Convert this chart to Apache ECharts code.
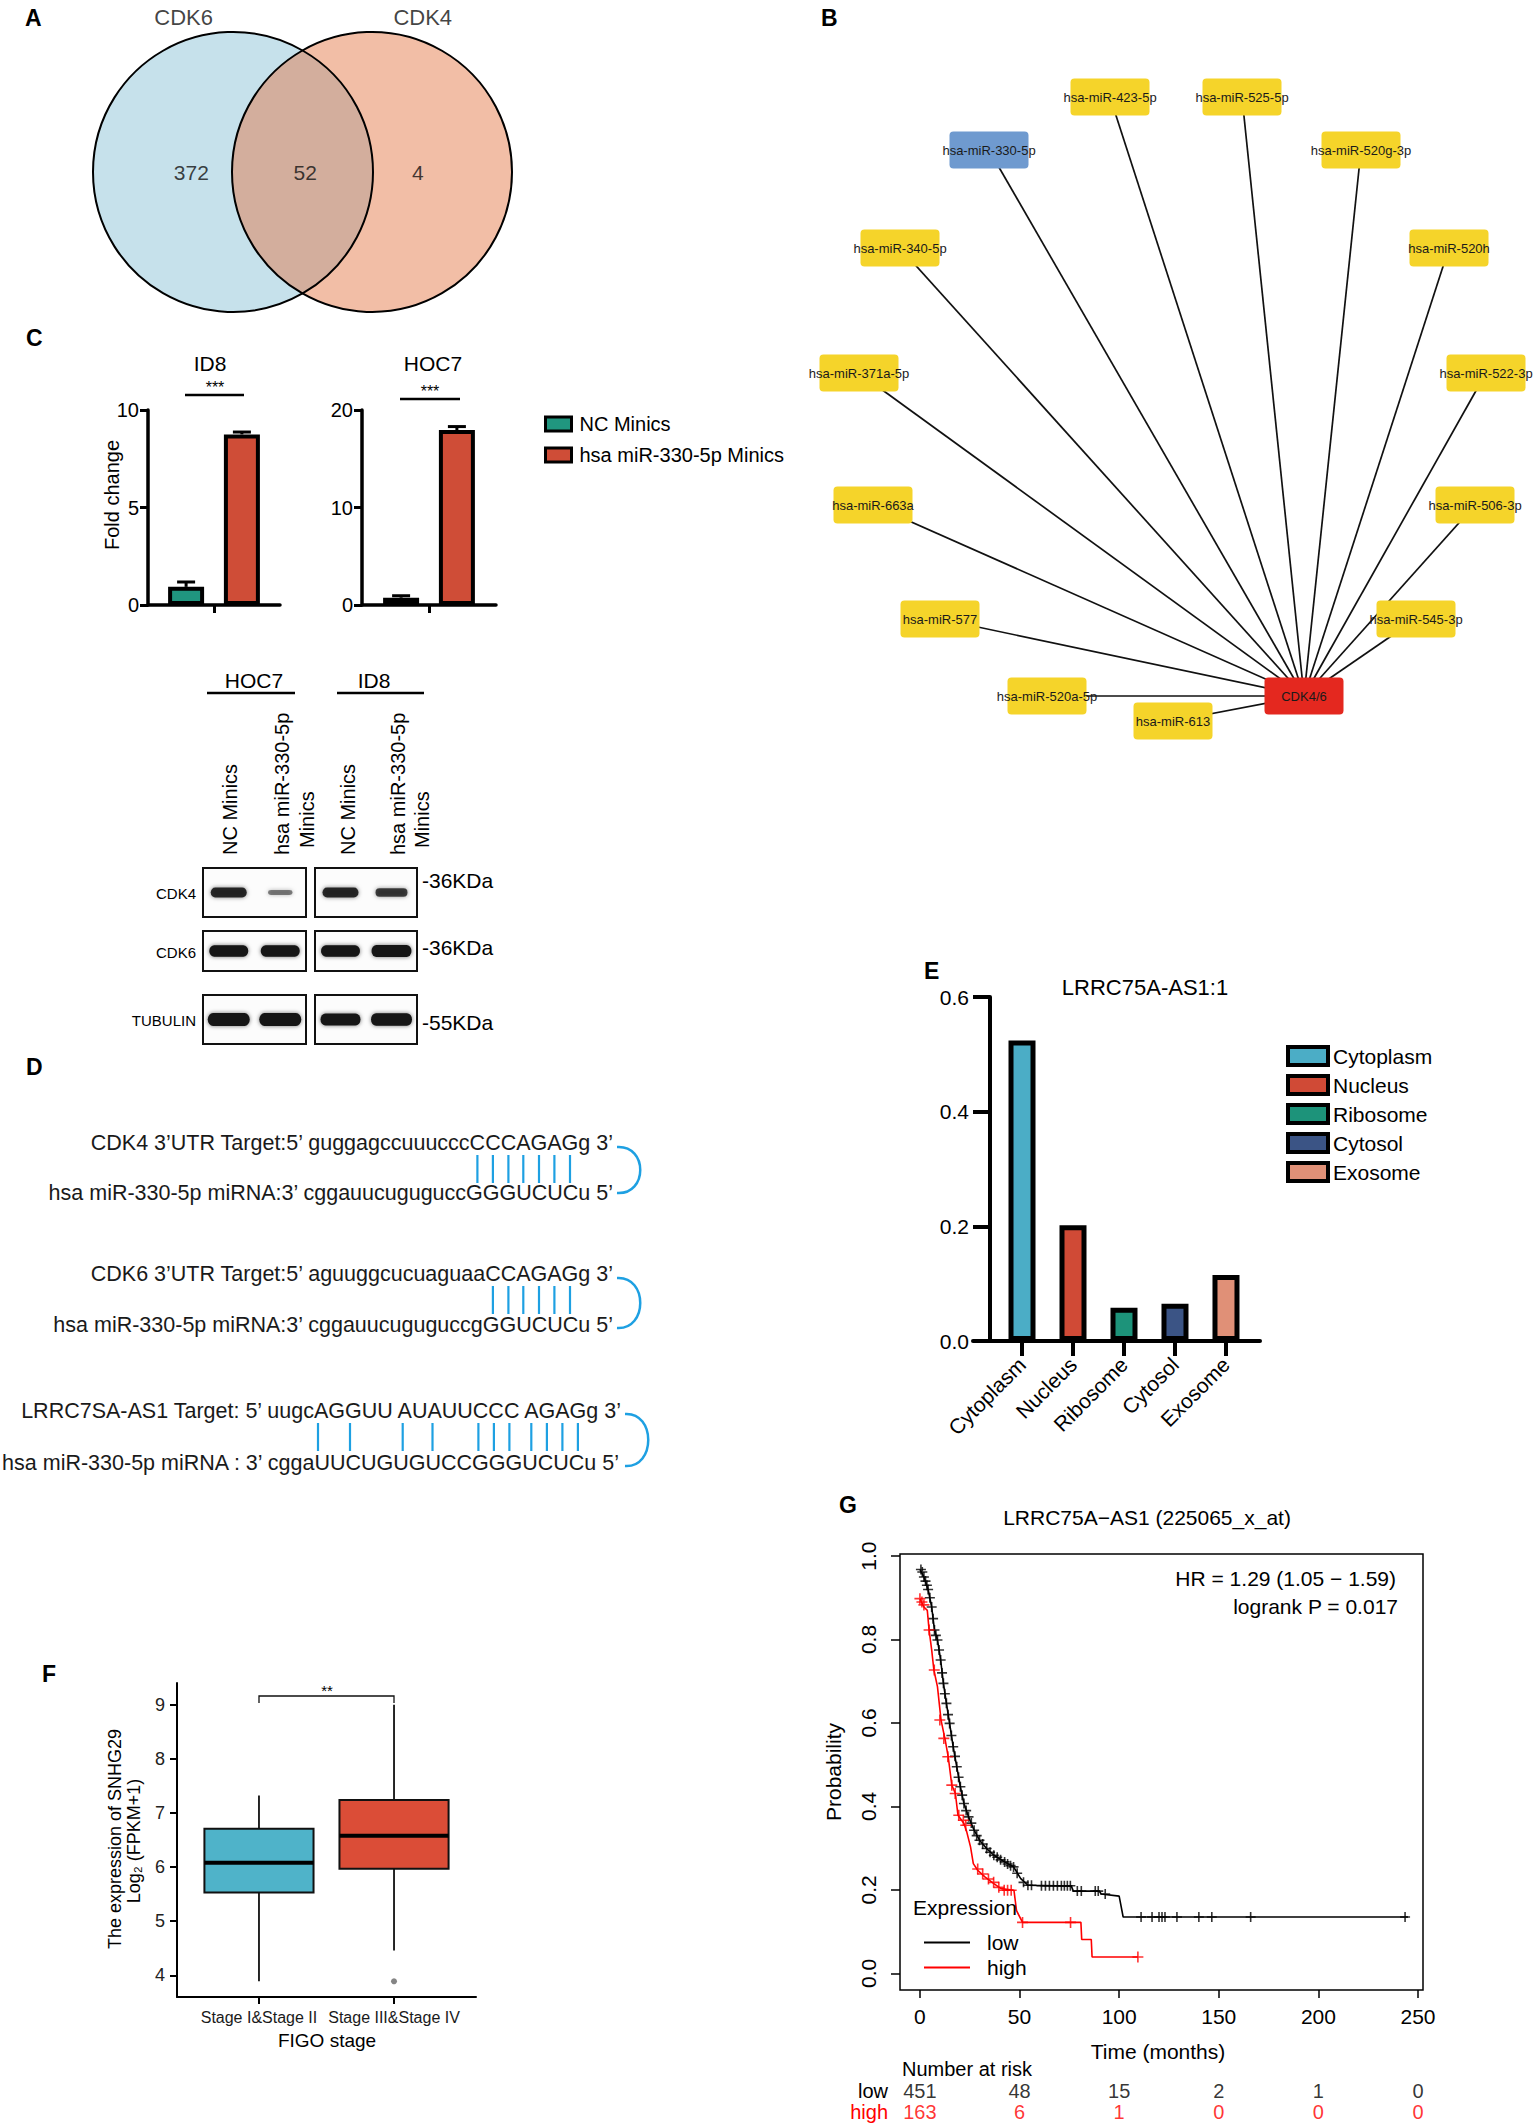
<!DOCTYPE html>
<html>
<head>
<meta charset="utf-8">
<title>Figure</title>
<script src="https://cdn.jsdelivr.net/npm/echarts@6.0.0/dist/echarts.min.js"></script>
<style>
html,body{margin:0;padding:0;background:#ffffff;}
#chart{width:1535px;height:2124px;}
</style>
</head>
<body>
<div id="chart"></div>
<script>
// ================= DATA =================
// A: Venn
const vennSets = ['CDK6', 'CDK4'];
const vennCounts = [372, 52, 4]; // CDK6 only, shared, CDK4 only

// B: network
const netHub = 'CDK4/6';
const netMirnas = ['hsa-miR-423-5p','hsa-miR-525-5p','hsa-miR-330-5p','hsa-miR-520g-3p','hsa-miR-340-5p','hsa-miR-520h',
  'hsa-miR-371a-5p','hsa-miR-522-3p','hsa-miR-663a','hsa-miR-506-3p','hsa-miR-577','hsa-miR-545-3p','hsa-miR-520a-5p','hsa-miR-613'];
const netHighlight = 'hsa-miR-330-5p';

// C: qPCR fold change
const qpcrCells = ['ID8', 'HOC7'];
const qpcrGroups = ['NC Minics', 'hsa miR-330-5p Minics'];
const qpcrID8 = [0.93, 8.75];
const qpcrID8Err = [0.25, 0.12];
const qpcrHOC7 = [0.75, 17.95];
const qpcrHOC7Err = [0.2, 0.35];
const qpcrSignif = ['***', '***'];

// C: western blot (relative band intensity: HOC7 NC, HOC7 miR, ID8 NC, ID8 miR)
const blotCells = ['HOC7', 'ID8'];
const blotLanes = ['NC Minics', 'hsa miR-330-5p Minics'];
const blotRows = ['CDK4', 'CDK6', 'TUBULIN'];
const blotMarkers = ['-36KDa', '-36KDa', '-55KDa'];
const blotCDK4 = [0.8, 0.22, 0.8, 0.6];
const blotCDK6 = [0.95, 0.95, 0.95, 1.0];
const blotTUBULIN = [1.1, 1.1, 1.0, 1.05];

// D: sequence pairing
const seqLines = [
  'CDK4 3\u2019UTR Target:5\u2019 guggagccuuucccCCCAGAGg 3\u2019',
  'hsa miR-330-5p miRNA:3\u2019 cggauucuguguccGGGUCUCu 5\u2019',
  'CDK6 3\u2019UTR Target:5\u2019 aguuggcucuaguaaCCAGAGg 3\u2019',
  'hsa miR-330-5p miRNA:3\u2019 cggauucuguguccgGGUCUCu 5\u2019',
  'LRRC7SA-AS1 Target: 5\u2019 uugcAGGUU AUAUUCCC AGAGg 3\u2019',
  'hsa miR-330-5p miRNA : 3\u2019 cggaUUCUGUGUCCGGGUCUCu 5\u2019'
];

// E: subcellular localisation
const locTitle = 'LRRC75A-AS1:1';
const locCategories = ['Cytoplasm', 'Nucleus', 'Ribosome', 'Cytosol', 'Exosome'];
const locValues = [0.524, 0.202, 0.058, 0.065, 0.115];

// F: boxplot by FIGO stage  [min, Q1, median, Q3, max]
const figoStages = ['Stage I&Stage II', 'Stage III&Stage IV'];
const figoBoxStats = [[3.89, 5.53, 6.08, 6.71, 7.32], [4.46, 5.97, 6.58, 7.24, 9.0]];
const figoOutliers = [[1, 3.89]];

// G: Kaplan-Meier
const kmLowTime = [0, 2, 4.1, 5.9, 7.3, 8.8, 10.4, 11.8, 13.3, 14.9, 16.7, 18.5, 20.3, 22.1, 24.4, 27.2, 29.9, 33.5, 37.1, 42.5, 47, 50.6, 54.2, 76, 77, 90, 91, 100, 102, 245];
const kmLowSurv = [0.968, 0.95, 0.92, 0.878, 0.823, 0.799, 0.751, 0.695, 0.647, 0.599, 0.543, 0.495, 0.447, 0.407, 0.375, 0.343, 0.319, 0.299, 0.283, 0.267, 0.255, 0.227, 0.211, 0.209, 0.197, 0.197, 0.19, 0.185, 0.135, 0.135];
const kmHighTime = [0, 2, 3.7, 4.6, 5.9, 7, 8.8, 10.6, 12.7, 14.2, 16, 17.8, 19.1, 22.1, 23.5, 25.4, 26.8, 29, 32.6, 37.1, 40.7, 47.2, 48.5, 51.5, 80.8, 81.2, 86, 86.4, 109.4];
const kmHighSurv = [0.898, 0.878, 0.87, 0.823, 0.775, 0.727, 0.687, 0.607, 0.559, 0.519, 0.451, 0.431, 0.379, 0.359, 0.339, 0.303, 0.263, 0.247, 0.231, 0.215, 0.203, 0.199, 0.15, 0.122, 0.122, 0.081, 0.081, 0.039, 0.039];
const kmLowCensor = [[0.5,0.968],[1.2,0.962],[2,0.95],[2.8,0.94],[3.5,0.93],[4.1,0.92],[5,0.9],[5.9,0.878],[6.6,0.85],[7.3,0.823],[8,0.81],[8.8,0.799],[9.6,0.775],[10.4,0.751],[11.1,0.72],[11.8,0.695],[12.5,0.67],[13.3,0.647],[14.1,0.62],[14.9,0.599],[15.8,0.57],[16.7,0.543],[17.6,0.52],[18.5,0.495],[19.4,0.47],[20.3,0.447],[21.2,0.427],[22.1,0.407],[23.2,0.39],[24.4,0.375],[25.8,0.36],[27.2,0.343],[28.5,0.33],[29.9,0.319],[31.5,0.31],[33.5,0.299],[35.2,0.29],[37.1,0.283],[38.8,0.278],[40.5,0.272],[42.5,0.267],[44,0.262],[45.5,0.258],[47,0.255],[48.8,0.24],[52,0.218],[54.2,0.211],[56,0.211],[61,0.21],[63,0.21],[65,0.21],[67,0.21],[69,0.21],[71,0.21],[72.5,0.21],[74,0.21],[75.5,0.21],[79,0.197],[81,0.197],[88,0.197],[89.5,0.197],[93,0.19],[111,0.135],[116.5,0.135],[120,0.135],[121.5,0.135],[123,0.135],[129,0.135],[140,0.135],[146.5,0.135],[166,0.135],[243.5,0.135]];
const kmHighCensor = [[0,0.898],[1,0.89],[2,0.883],[4.6,0.823],[7.2,0.727],[10,0.607],[12,0.563],[14,0.519],[16,0.451],[17.7,0.431],[19.5,0.379],[21.8,0.367],[23,0.355],[29,0.25],[31.5,0.238],[34.4,0.226],[37,0.218],[39.6,0.206],[42.3,0.199],[44,0.199],[45.8,0.199],[51.5,0.122],[75.6,0.122],[109.4,0.039]];
const riskTimes = [0, 50, 100, 150, 200, 250];
const riskLow = [451, 48, 15, 2, 1, 0];
const riskHigh = [163, 6, 1, 0, 0, 0];

// ================= LAYOUT / STYLE =================
const FONT = 'Arial, "Liberation Sans", Helvetica, sans-serif';
const netLayout = {
  'hsa-miR-423-5p': [1110, 97], 'hsa-miR-525-5p': [1242, 97], 'hsa-miR-330-5p': [989, 150],
  'hsa-miR-520g-3p': [1361, 150], 'hsa-miR-340-5p': [900, 248], 'hsa-miR-520h': [1449, 248],
  'hsa-miR-371a-5p': [859, 373], 'hsa-miR-522-3p': [1486, 373], 'hsa-miR-663a': [873, 505],
  'hsa-miR-506-3p': [1475, 505], 'hsa-miR-577': [940, 619], 'hsa-miR-545-3p': [1416, 619],
  'hsa-miR-520a-5p': [1047, 696], 'hsa-miR-613': [1173, 721], 'CDK4/6': [1304, 696]
};

const grid = [], xAxis = [], yAxis = [], series = [], graphic = [], legend = [];
function addGrid(g, xa, ya) {
  const i = grid.length;
  grid.push(g); xa.gridIndex = i; ya.gridIndex = i;
  xAxis.push(xa); yAxis.push(ya);
  return i;
}
function text(x, y, str, size, o) {
  o = o || {};
  const al = o.align || 'center', va = o.valign || 'middle';
  const st = { text: str, fontSize: size, fontFamily: FONT, fontWeight: o.bold ? 'bold' : 'normal',
    fill: o.color || '#000', align: al, verticalAlign: va, textAlign: al, textVerticalAlign: va };
  if (o.rich) st.rich = o.rich;
  graphic.push({ type: 'text', x: x, y: y, rotation: o.rot || 0, z: 100, silent: true, style: st });
}
function seg(x1, y1, x2, y2, color, w) {
  graphic.push({ type: 'line', z: 100, silent: true, shape: { x1: x1, y1: y1, x2: x2, y2: y2 }, style: { stroke: color || '#000', lineWidth: w || 2 } });
}

// ---------- Panel letters ----------
[['A', 25, 18], ['B', 821, 18], ['C', 26, 338], ['D', 26, 1067], ['E', 924, 971], ['F', 42, 1674], ['G', 839, 1505]]
  .forEach(l => text(l[1], l[2], l[0], 23, { bold: true, align: 'left' }));

// ---------- A: Venn ----------
const vi = addGrid({ left: 94, top: 33, width: 417, height: 278 },
  { type: 'value', min: -1.5, max: 1.5, show: false }, { type: 'value', min: -1, max: 1, show: false });
const vennFill = ['#C6E1EB', '#F2BEA6'];
series.push({ type: 'scatter', xAxisIndex: vi, yAxisIndex: vi, silent: true, clip: false, symbolSize: 280, z: 1,
  data: vennSets.map((s, i) => ({ name: s, value: [i - 0.5, 0], itemStyle: { color: vennFill[i], opacity: 1 } })) });
series.push({ type: 'scatter', xAxisIndex: vi, yAxisIndex: vi, silent: true, clip: false, z: 2,
  symbol: 'path://M70.5,0 A140,140 0 0,1 70.5,243 A140,140 0 0,1 70.5,0 Z', symbolSize: [141, 243],
  data: [[0, 0]], itemStyle: { color: '#D3AE9D', opacity: 1 } });
series.push({ type: 'scatter', xAxisIndex: vi, yAxisIndex: vi, silent: true, clip: false, symbolSize: 280, z: 3,
  data: vennSets.map((s, i) => [i - 0.5, 0]), itemStyle: { color: 'rgba(0,0,0,0)', borderColor: '#000', borderWidth: 2, opacity: 1 } });
const vennCountX = [-0.8, 0.02, 0.83];
const vennLabelX = [-0.855, 0.865];
series.push({ type: 'scatter', xAxisIndex: vi, yAxisIndex: vi, silent: true, clip: false, symbolSize: 1, z: 4,
  itemStyle: { color: 'rgba(0,0,0,0)' },
  data: vennCounts.map((c, i) => ({ value: [vennCountX[i], 0], label: { formatter: String(c), fontSize: 21 } }))
    .concat(vennSets.map((s, i) => ({ value: [vennLabelX[i], 1.115], label: { formatter: s, fontSize: 22 } }))),
  label: { show: true, position: 'inside', color: '#111', fontFamily: FONT } });

// ---------- B: Network ----------
const netNodes = netMirnas.concat([netHub]);
const nodeColor = n => n === netHub ? '#E4281F' : (n === netHighlight ? '#6F9ACF' : '#F5D42A');
const nodePath = 'path://M4,0H75Q79,0 79,4V33Q79,37 75,37H4Q0,37 0,33V4Q0,0 4,0Z';
const xs = netNodes.map(n => netLayout[n][0]), ys = netNodes.map(n => netLayout[n][1]);
const netBox = { left: Math.min.apply(null, xs), top: Math.min.apply(null, ys),
  width: Math.max.apply(null, xs) - Math.min.apply(null, xs), height: Math.max.apply(null, ys) - Math.min.apply(null, ys) };
series.push(Object.assign({ type: 'graph', layout: 'none', roam: false, silent: true, z: 2,
  data: netNodes.map(n => ({ name: n, x: netLayout[n][0], y: netLayout[n][1], symbolSize: 1, itemStyle: { color: 'rgba(0,0,0,0)' } })),
  links: netMirnas.map(m => ({ source: m, target: netHub })),
  label: { show: false }, lineStyle: { color: '#111', width: 1.7, opacity: 1, curveness: 0 } }, netBox));
series.push(Object.assign({ type: 'graph', layout: 'none', roam: false, silent: true, z: 3,
  data: netNodes.map(n => ({ name: n, x: netLayout[n][0], y: netLayout[n][1], symbol: nodePath, symbolSize: [79, 37], itemStyle: { color: nodeColor(n) } })),
  links: [], label: { show: true, position: 'inside', fontSize: 13, color: '#1a1a1a', fontFamily: FONT } }, netBox));

// ---------- C: qPCR bars ----------
const cColors = ['#20967F', '#CF4D37'];
const cLayout = [{ left: 148, width: 132 }, { left: 362, width: 134 }];
const cMax = [10, 20], cInt = [5, 10];
const cVals = [qpcrID8, qpcrHOC7], cErrs = [qpcrID8Err, qpcrHOC7Err];
const errRender = (params, api) => {
  const j = api.value(3);
  const b = api.coord([0, api.value(1)]);
  const t = api.coord([0, api.value(1) + api.value(2)]);
  const x = b[0] + (j === 0 ? -1 : 1) * 27.9;
  return { type: 'group', children: [
    { type: 'line', shape: { x1: x, y1: b[1], x2: x, y2: t[1] }, style: { stroke: '#000', lineWidth: 3 } },
    { type: 'line', shape: { x1: x - 9, y1: t[1], x2: x + 9, y2: t[1] }, style: { stroke: '#000', lineWidth: 3 } }
  ] };
};
qpcrCells.forEach((cell, k) => {
  const gi = addGrid({ left: cLayout[k].left, top: 410, width: cLayout[k].width, height: 195 },
    { type: 'category', data: [cell], axisLine: { show: true, lineStyle: { color: '#000', width: 3.5 } },
      axisTick: { show: true, alignWithLabel: true, length: 8, lineStyle: { color: '#000', width: 3 } }, axisLabel: { show: false } },
    { type: 'value', min: 0, max: cMax[k], interval: cInt[k], splitLine: { show: false },
      axisLine: { show: true, lineStyle: { color: '#000', width: 3.5 } },
      axisTick: { show: true, length: 8, lineStyle: { color: '#000', width: 3 } },
      axisLabel: { fontSize: 20, color: '#000', margin: 9, fontFamily: FONT } });
  qpcrGroups.forEach((g, j) => series.push({ name: g, type: 'bar', xAxisIndex: gi, yAxisIndex: gi, barWidth: 36, barGap: '55%',
    data: [cVals[k][j]], itemStyle: { color: cColors[j], borderColor: '#000', borderWidth: 4 } }));
  series.push({ type: 'custom', xAxisIndex: gi, yAxisIndex: gi, silent: true, z: 5,
    data: cVals[k].map((v, j) => [0, v, cErrs[k][j], j]), renderItem: errRender });
});
legend.push({ data: qpcrGroups, left: 539, top: 409, orient: 'vertical', itemWidth: 26, itemHeight: 14, itemGap: 11, icon: 'rect',
  selectedMode: false, itemStyle: { borderColor: '#000', borderWidth: 3 }, textStyle: { fontSize: 20, color: '#000', fontFamily: FONT, padding: [0, 0, 0, 3] } });
text(210, 363, qpcrCells[0], 21); text(433, 363, qpcrCells[1], 21);
text(215, 387, qpcrSignif[0], 16); seg(185, 395, 244, 395, '#000', 2.5);
text(430, 391, qpcrSignif[1], 16); seg(400, 399, 460, 399, '#000', 2.5);
text(112, 495, 'Fold change', 20, { rot: Math.PI / 2 });

// ---------- C: Western blot ----------
const blotPanelX = [[203, 103], [315, 102]];
const blotRowY = [[868, 49], [931, 40], [995, 49]];
const blotData = [blotCDK4, blotCDK6, blotTUBULIN];
const bandPath = 'path://M5,0 H35 A5,5 0 0 1 35,10 H5 A5,5 0 0 1 5,0 Z';
blotRows.forEach((row, r) => {
  blotCells.forEach((cell, p) => {
    const gi = addGrid({ left: blotPanelX[p][0], top: blotRowY[r][0], width: blotPanelX[p][1], height: blotRowY[r][1],
        show: true, borderColor: '#111', borderWidth: 2, backgroundColor: '#fcfcfc' },
      { type: 'category', data: blotLanes, show: false }, { type: 'value', min: 0, max: 1, show: false });
    series.push({ type: 'scatter', xAxisIndex: gi, yAxisIndex: gi, silent: true, symbol: bandPath,
      itemStyle: { color: '#151515', shadowBlur: 4, shadowColor: 'rgba(0,0,0,0.55)' },
      data: [0, 1].map(l => { const I = blotData[r][p * 2 + l];
        return { value: [l, 0.5], symbolSize: [20 + 20 * I, 3 + 9 * I], itemStyle: { opacity: Math.min(1, 0.35 + 0.7 * I) } }; }) });
  });
  text(196, blotRowY[r][0] + blotRowY[r][1] / 2 + 1, row, 15, { align: 'right' });
  text(422, [880, 947, 1022][r], blotMarkers[r], 21, { align: 'left' });
});
text(254, 680, blotCells[0], 21); text(374, 680, blotCells[1], 21);
seg(207, 693, 295, 693, '#000', 2.5); seg(337, 693, 424, 693, '#000', 2.5);
[[230, 282, 307], [348, 398, 422]].forEach(px => {
  text(px[0], 855, 'NC Minics', 20, { rot: Math.PI / 2, align: 'left' });
  text(px[1], 855, 'hsa miR-330-5p', 20, { rot: Math.PI / 2, align: 'left' });
  text(px[2], 848, 'Minics', 20, { rot: Math.PI / 2, align: 'left' });
});

// ---------- D: sequence alignment ----------
const seqRight = [613, 613, 613, 613, 621, 619];
const seqY = [1143, 1193, 1274, 1325, 1411, 1463];
seqLines.forEach((s, i) => text(seqRight[i], seqY[i], s, 21.5, { align: 'right', color: '#1a1a1a' }));
const pairX = [[477.4, 492.9, 508.4, 523.3, 539, 554.4, 570], [492.9, 508.4, 523.3, 539, 554.4, 570],
  [318, 350, 402.7, 432.5, 478.4, 493.9, 509.4, 531.3, 546.9, 562.4, 577.9]];
const pairY = [[1155, 1183], [1286, 1314], [1423, 1451]];
const BLUE = '#1EA0E2';
pairX.forEach((px, g) => px.forEach(x => seg(x, pairY[g][0], x, pairY[g][1], BLUE, 2.2)));
[[617, 1147, 1193], [617, 1278, 1328], [625, 1414, 1466]].forEach(a => {
  graphic.push({ type: 'bezierCurve', z: 100, silent: true,
    shape: { x1: a[0], y1: a[1], x2: a[0], y2: a[2], cpx1: a[0] + 31, cpy1: a[1] - 2, cpx2: a[0] + 31, cpy2: a[2] + 2 },
    style: { stroke: BLUE, lineWidth: 2.5, fill: 'none' } });
});

// ---------- E: localisation bars ----------
const locColors = ['#4BADC6', '#D04A36', '#1D937A', '#3B5485', '#E09077'];
const ticks5 = locCategories.map((c, i) => i);
const ei = addGrid({ left: 973, top: 997, width: 287, height: 344 },
  { type: 'value', min: -0.961, max: 4.667, splitLine: { show: false },
    axisLine: { show: true, onZero: false, lineStyle: { color: '#000', width: 4 } },
    axisTick: { show: true, inside: false, length: 15, customValues: ticks5, lineStyle: { color: '#000', width: 4 } },
    axisLabel: { customValues: ticks5, formatter: v => locCategories[v] || '', rotate: 45, fontSize: 21, color: '#000', margin: 20, fontFamily: FONT } },
  { type: 'value', min: 0, max: 0.6, interval: 0.2, offset: -17, splitLine: { show: false },
    axisLine: { show: true, onZero: false, lineStyle: { color: '#000', width: 4 } },
    axisTick: { show: true, inside: false, length: 17, lineStyle: { color: '#000', width: 4 } },
    axisLabel: { fontSize: 21, color: '#000', margin: 21, formatter: v => v.toFixed(1), fontFamily: FONT } });
locCategories.forEach((c, i) => series.push({ name: c, type: 'bar', xAxisIndex: ei, yAxisIndex: ei, barWidth: 27, barGap: '-100%',
  data: [[i, locValues[i]]], itemStyle: { color: locColors[i], borderColor: '#000', borderWidth: 5 } }));
legend.push({ data: locCategories, left: 1281, top: 1040, orient: 'vertical', itemWidth: 40, itemHeight: 18, itemGap: 7, icon: 'rect',
  selectedMode: false, itemStyle: { borderColor: '#000', borderWidth: 4 }, textStyle: { fontSize: 21, color: '#000', fontFamily: FONT } });
text(1145, 987, locTitle, 22);

// ---------- F: boxplot ----------
const figoColors = ['#4FB3C9', '#DB4D37'];
const fi = addGrid({ left: 177, top: 1683, width: 299, height: 314 },
  { type: 'value', min: -0.607, max: 1.607, splitLine: { show: false },
    axisLine: { show: true, onZero: false, lineStyle: { color: '#000', width: 2 } },
    axisTick: { show: true, inside: false, length: 7, customValues: [0, 1], lineStyle: { color: '#000', width: 2 } },
    axisLabel: { customValues: [0, 1], formatter: v => figoStages[v] || '', fontSize: 16, color: '#1a1a1a', margin: 12, fontFamily: FONT } },
  { type: 'value', min: 3.6, max: 9.4, splitLine: { show: false },
    axisLine: { show: true, onZero: false, lineStyle: { color: '#000', width: 2 } },
    axisTick: { show: true, inside: false, length: 7, customValues: [4, 5, 6, 7, 8, 9], lineStyle: { color: '#000', width: 2 } },
    axisLabel: { customValues: [4, 5, 6, 7, 8, 9], fontSize: 18, color: '#222', margin: 12, fontFamily: FONT } });
series.push({ type: 'custom', xAxisIndex: fi, yAxisIndex: fi, silent: true,
  data: figoBoxStats.map((b, i) => [i].concat(b)),
  renderItem: (params, api) => {
    const i = api.value(0);
    const c = api.coord([i, api.value(3)]);
    const yMin = api.coord([i, api.value(1)])[1], yQ1 = api.coord([i, api.value(2)])[1];
    const yQ3 = api.coord([i, api.value(4)])[1], yMax = api.coord([i, api.value(5)])[1];
    const half = api.size([1, 0])[0] * 0.404;
    const x = c[0];
    return { type: 'group', children: [
      { type: 'line', shape: { x1: x, y1: yMin, x2: x, y2: yQ1 }, style: { stroke: '#111', lineWidth: 1.8 } },
      { type: 'line', shape: { x1: x, y1: yQ3, x2: x, y2: yMax }, style: { stroke: '#111', lineWidth: 1.8 } },
      { type: 'rect', shape: { x: x - half, y: yQ3, width: 2 * half, height: yQ1 - yQ3 }, style: { fill: figoColors[params.dataIndex], stroke: '#111', lineWidth: 2 } },
      { type: 'line', shape: { x1: x - half, y1: c[1], x2: x + half, y2: c[1] }, style: { stroke: '#000', lineWidth: 4 } }
    ] };
  } });
series.push({ type: 'scatter', xAxisIndex: fi, yAxisIndex: fi, silent: true, data: figoOutliers, symbolSize: 6, itemStyle: { color: '#666' } });
text(115, 1839, 'The expression of SNHG29', 18, { rot: Math.PI / 2 });
text(134, 1841, 'Log\u2082 (FPKM+1)', 18, { rot: Math.PI / 2 });
text(327, 2040, 'FIGO stage', 19);
graphic.push({ type: 'polyline', z: 100, silent: true, shape: { points: [[259, 1703], [259, 1696], [394, 1696], [394, 1703]] }, style: { stroke: '#111', lineWidth: 1.3, fill: 'none' } });
text(327, 1690, '**', 15);

// ---------- G: Kaplan-Meier ----------
const RED = '#ff0000';
const plusPath = 'path://M0,5 L10,5 M5,0 L5,10';
const gi = addGrid({ left: 900, top: 1554, width: 523, height: 436, show: true, borderColor: '#000', borderWidth: 1.5 },
  { type: 'value', min: -10, max: 252.5, splitLine: { show: false }, axisLine: { show: false, onZero: false },
    axisTick: { show: true, inside: false, length: 8, customValues: riskTimes, lineStyle: { color: '#000', width: 1.5 } },
    axisLabel: { customValues: riskTimes, fontSize: 21, color: '#000', margin: 16, fontFamily: FONT } },
  { type: 'value', min: -0.04, max: 1.005, splitLine: { show: false }, axisLine: { show: false, onZero: false },
    axisTick: { show: true, inside: false, length: 9, customValues: [0, 0.2, 0.4, 0.6, 0.8, 1.0], lineStyle: { color: '#000', width: 1.5 } },
    axisLabel: { customValues: [0, 0.2, 0.4, 0.6, 0.8, 1.0], rotate: 90, fontSize: 21, color: '#000', margin: 21,
      formatter: v => v.toFixed(1), fontFamily: FONT } });
series.push({ name: 'low', type: 'line', xAxisIndex: gi, yAxisIndex: gi, symbol: 'none', z: 3,
  data: kmLowTime.map((t, i) => [t, kmLowSurv[i]]), lineStyle: { color: '#000', width: 1.6 }, itemStyle: { color: '#000' } });
series.push({ name: 'high', type: 'line', xAxisIndex: gi, yAxisIndex: gi, symbol: 'none', z: 4,
  data: kmHighTime.map((t, i) => [t, kmHighSurv[i]]), lineStyle: { color: RED, width: 1.6 }, itemStyle: { color: RED } });
series.push({ name: 'low censored', type: 'scatter', xAxisIndex: gi, yAxisIndex: gi, silent: true, symbol: plusPath, symbolSize: 10, z: 3,
  data: kmLowCensor, itemStyle: { color: 'rgba(0,0,0,0)', borderColor: '#000', borderWidth: 1.6 } });
series.push({ name: 'high censored', type: 'scatter', xAxisIndex: gi, yAxisIndex: gi, silent: true, symbol: plusPath, symbolSize: 11, z: 4,
  data: kmHighCensor, itemStyle: { color: 'rgba(0,0,0,0)', borderColor: RED, borderWidth: 1.6 } });
legend.push({ data: ['low', 'high'], left: 919, top: 1927, orient: 'vertical', icon: 'rect', itemWidth: 46, itemHeight: 2, itemGap: 4,
  selectedMode: false, textStyle: { fontSize: 21, color: '#000', fontFamily: FONT, padding: [0, 0, 0, 12] } });
// number at risk table
const ri = addGrid({ left: 900, top: 2080, width: 523, height: 42 },
  { type: 'value', min: -10, max: 252.5, show: false },
  { type: 'category', data: ['low', 'high'], inverse: true, axisLine: { show: false, onZero: false }, axisTick: { show: false },
    axisLabel: { interval: 0, margin: 12, formatter: v => v === 'high' ? '{h|high}' : '{l|low}',
      rich: { h: { color: RED, fontSize: 20, fontFamily: FONT }, l: { color: '#000', fontSize: 20, fontFamily: FONT } } } });
[['low', riskLow, '#000'], ['high', riskHigh, RED]].forEach(r => series.push({ type: 'scatter', xAxisIndex: ri, yAxisIndex: ri, silent: true,
  clip: false, symbolSize: 1, itemStyle: { color: 'rgba(0,0,0,0)' }, data: riskTimes.map((t, i) => [t, r[0], r[1][i]]),
  label: { show: true, position: 'inside', formatter: p => String(p.value[2]), fontSize: 20, color: r[2], fontFamily: FONT } }));
text(1147, 1517, 'LRRC75A\u2212AS1 (225065_x_at)', 21);
text(1396, 1578, 'HR = 1.29 (1.05 \u2212 1.59)', 21, { align: 'right' });
text(1398, 1606, 'logrank P = 0.017', 21, { align: 'right' });
text(833, 1772, 'Probability', 21, { rot: Math.PI / 2 });
text(1158, 2051, 'Time (months)', 21);
text(913, 1907, 'Expression', 21, { align: 'left' });
text(902, 2069, 'Number at risk', 20, { align: 'left' });

// ================= CHART =================
const chart = echarts.init(document.getElementById('chart'), null, { renderer: 'svg', width: 1535, height: 2124 });
chart.setOption({
  animation: false,
  backgroundColor: '#ffffff',
  textStyle: { fontFamily: FONT },
  grid: grid, xAxis: xAxis, yAxis: yAxis, legend: legend, series: series, graphic: graphic
});
</script>
</body>
</html>
